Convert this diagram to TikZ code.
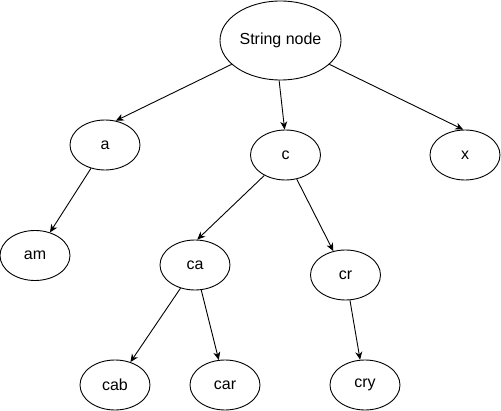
\documentclass[tikz,border=0pt]{standalone}
\usepackage{fontspec}
\setmainfont{Liberation Sans}
\usetikzlibrary{arrows.meta,shapes.geometric}
\begin{document}
\begin{tikzpicture}[x=1pt,y=-1pt,
  nd/.style={draw=black,line width=0.9pt,ellipse,fill=white,minimum width=70pt,minimum height=50pt,inner sep=0pt,font=\fontsize{16}{19}\selectfont},
  edge/.style={draw=black,line width=0.9pt,-{Stealth[length=8pt,width=7pt,inset=2.5pt]}}]
\useasboundingbox (0,0) rectangle (501,411);
\node[nd,minimum width=121pt,minimum height=79pt] (root) at (280.5,40.5) {String node};
\node[nd] (a) at (105,145) {a};
\node[nd] (c) at (285.5,155) {c};
\node[nd] (x) at (465,155) {x};
\node[nd] (am) at (35,255.5) {am};
\node[nd] (ca) at (195,265) {ca};
\node[nd] (cr) at (345.5,275) {cr};
\node[nd] (cab) at (115,385) {cab};
\node[nd] (car) at (225,385) {car};
\node[nd] (cry) at (365,385) {cry};
\draw[edge] (root.206) -- (a.66);
\draw[edge] (root.268) -- (c.92);
\draw[edge] (root.334) -- (x.94);
\draw[edge] (a.239) -- (am.57);
\draw[edge] (c.224) -- (ca.85);
\draw[edge] (c.295) -- (cr.117);
\draw[edge] (ca.238) -- (cab.56);
\draw[edge] (ca.284) -- (car.104);
\draw[edge] (cr.280) -- (cry.101);
\end{tikzpicture}
\end{document}
